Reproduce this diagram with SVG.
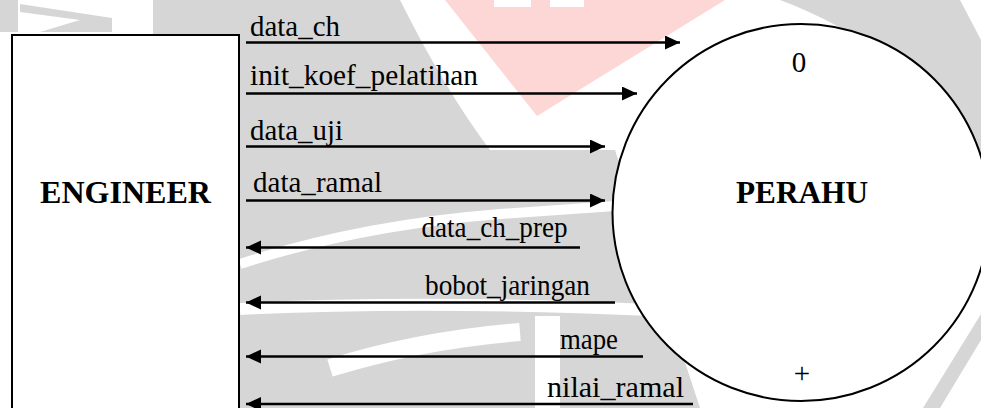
<svg xmlns="http://www.w3.org/2000/svg" width="981" height="408" viewBox="0 0 981 408">
<style>
.wm{fill:#d6d6d6;stroke:none}
.wmw{fill:none;stroke:#ffffff}
.box{fill:#ffffff;stroke:#000;stroke-width:2}
.flow{fill:none;stroke:#000;stroke-width:2.5;marker-end:url(#ah)}
text{font-family:'Liberation Serif','Times New Roman',serif;fill:#000}
.lbl{font-size:28.5px}
.big{font-size:31px;font-weight:bold;text-anchor:middle}
.num{font-size:29px;text-anchor:middle}
</style>
<defs>
<marker id="ah" markerUnits="userSpaceOnUse" markerWidth="16" markerHeight="15" refX="15" refY="7" orient="auto">
<path d="M0,0 L15,7 L0,14 Z" fill="#000"/>
</marker>
</defs>
<rect width="981" height="408" fill="#ffffff"/>
<g id="watermark">
<polygon points="445,0 725,0 537,116" fill="#fdd6d6"/>
<rect x="494" y="0" width="37" height="7" fill="#ffffff"/>
<rect x="550" y="0" width="34" height="7" fill="#ffffff"/>
<rect x="0" y="0" width="18" height="32" class="wm"/>
<polygon points="20,4 112,18 112,32 40,32 80,20 20,12" class="wm"/>
<path class="wm" d="M153,0 L400,0 C430,60 460,110 490,150 L615,150 L700,408 L100,408 L100,35 L153,35 Z"/>
<path class="wm" d="M780,0 L960,0 L981,40 L981,160 L960,150 C930,80 860,30 780,0 Z"/>
<path class="wm" d="M923,408 L981,314 L981,340 L940,408 Z"/>
<path class="wmw" stroke-width="10" d="M240,264 Q360,225 500,214 L615,206"/>
<path class="wmw" stroke-width="12" d="M240,309 Q420,300 650,310"/>
<path class="wmw" stroke-width="18" d="M330,368 Q420,340 520,332"/>
<rect x="535" y="316" width="25" height="92" fill="#ffffff"/>
</g>
<g id="engineer">
<rect class="box" x="12" y="35" width="227" height="390"/>
<text class="big" x="125.5" y="203" textLength="171" lengthAdjust="spacingAndGlyphs">ENGINEER</text>
</g>
<g id="perahu">
<circle class="box" cx="801" cy="212.5" r="188.5"/>
<text class="num" x="799" y="72">0</text>
<text class="big" x="802" y="203" textLength="132" lengthAdjust="spacingAndGlyphs">PERAHU</text>
<text class="num" x="802" y="383" font-size="32">+</text>
</g>
<g id="connectors">
<path class="flow" d="M246,42.5 H680"/>
<path class="flow" d="M246,93.5 H637"/>
<path class="flow" d="M246,146.5 H605"/>
<path class="flow" d="M246,200.5 H605"/>
<path class="flow" d="M580,247.5 H246"/>
<path class="flow" d="M615,302.5 H246"/>
<path class="flow" d="M643,356.5 H246"/>
<path class="flow" d="M693,404 H246"/>
<text class="lbl" x="250" y="36" textLength="90" lengthAdjust="spacingAndGlyphs">data_ch</text>
<text class="lbl" x="250" y="85" textLength="228" lengthAdjust="spacingAndGlyphs">init_koef_pelatihan</text>
<text class="lbl" x="250" y="139.5" textLength="93" lengthAdjust="spacingAndGlyphs">data_uji</text>
<text class="lbl" x="253" y="192" textLength="129" lengthAdjust="spacingAndGlyphs">data_ramal</text>
<text class="lbl" x="421.5" y="237" textLength="146" lengthAdjust="spacingAndGlyphs">data_ch_prep</text>
<text class="lbl" x="425" y="295" textLength="165" lengthAdjust="spacingAndGlyphs">bobot_jaringan</text>
<text class="lbl" x="560" y="348.5" textLength="58" lengthAdjust="spacingAndGlyphs">mape</text>
<text class="lbl" x="547" y="397" textLength="137" lengthAdjust="spacingAndGlyphs">nilai_ramal</text>
</g>
</svg>
